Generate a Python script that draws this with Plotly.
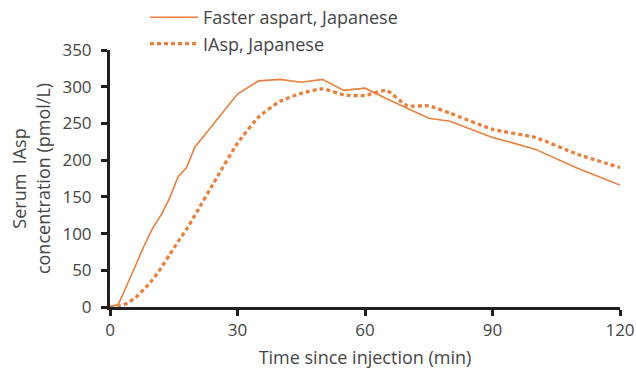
import plotly.graph_objects as go

# Data
time_fa = [0, 2, 4, 6, 8, 10, 12, 14, 16, 18, 20, 25, 30, 35, 40, 45, 50, 55, 60, 65, 70, 75, 80, 90, 100, 110, 120]
faster_aspart = [0, 4, 30, 57, 83, 107, 125, 148, 177, 190, 218, 254, 290, 308, 310, 306, 310, 295, 298, 284, 271, 257, 253, 231, 215, 189, 166]

time_iasp = [0, 2, 4, 6, 8, 10, 12, 14, 16, 18, 20, 25, 30, 35, 40, 45, 50, 55, 60, 65, 70, 75, 80, 90, 100, 110, 120]
iasp = [0, 1, 5, 13, 24, 37, 53, 71, 89, 106, 125, 175, 223, 259, 280, 291, 297, 289, 288, 295, 274, 274, 264, 242, 231, 208, 190]

x_ticks = [0, 30, 60, 90, 120]
y_ticks = [0, 50, 100, 150, 200, 250, 300, 350]

ORANGE = "#E8803F"
AXIS = "#231F20"
TEXT = "#454545"
FONT = "Open Sans"

fig = go.Figure()
fig.add_trace(go.Scatter(
    x=time_fa, y=faster_aspart, mode="lines",
    name="Faster aspart, Japanese", legendgroup="a",
    line=dict(color=ORANGE, width=1.6),
))
fig.add_trace(go.Scatter(
    x=time_iasp, y=iasp, mode="lines",
    name="IAsp, Japanese", legendgroup="b",
    line=dict(color=ORANGE, width=3.3, dash="4px,3px", shape="spline", smoothing=0.5),
))

fig.update_layout(
    width=636, height=369,
    margin=dict(l=110, r=16, t=50, b=62, autoexpand=False),
    paper_bgcolor="white", plot_bgcolor="white",
    font=dict(family=FONT, size=17, color=TEXT),
    showlegend=True,
    legend=dict(
        x=0.0686, y=1.198, xanchor="left", yanchor="top",
        bgcolor="rgba(0,0,0,0)", font=dict(size=18, color=TEXT),
        tracegroupgap=0, itemwidth=48,
    ),
    xaxis=dict(
        range=[0, 120], tickvals=x_ticks, ticktext=[str(v) for v in x_ticks],
        showgrid=False, zeroline=False, showline=True, linecolor=AXIS, linewidth=3,
        ticks="outside", ticklen=6, tickwidth=3, tickcolor=AXIS,
        tickfont=dict(size=17, color=TEXT),
        title=dict(text="Time since injection (min)", font=dict(size=18, color=TEXT), standoff=14),
    ),
    yaxis=dict(
        range=[0, 350], tickvals=y_ticks, ticktext=[str(v) for v in y_ticks],
        showgrid=False, zeroline=False, showline=True, linecolor=AXIS, linewidth=3,
        ticks="outside", ticklen=6, tickwidth=3, tickcolor=AXIS,
        tickfont=dict(size=17, color=TEXT), ticklabelstandoff=6,
        title=dict(text="Serum  IAsp<br>concentration (pmol/L)", font=dict(size=18, color=TEXT), standoff=8),
    ),
)

fig.write_html("out.html")
